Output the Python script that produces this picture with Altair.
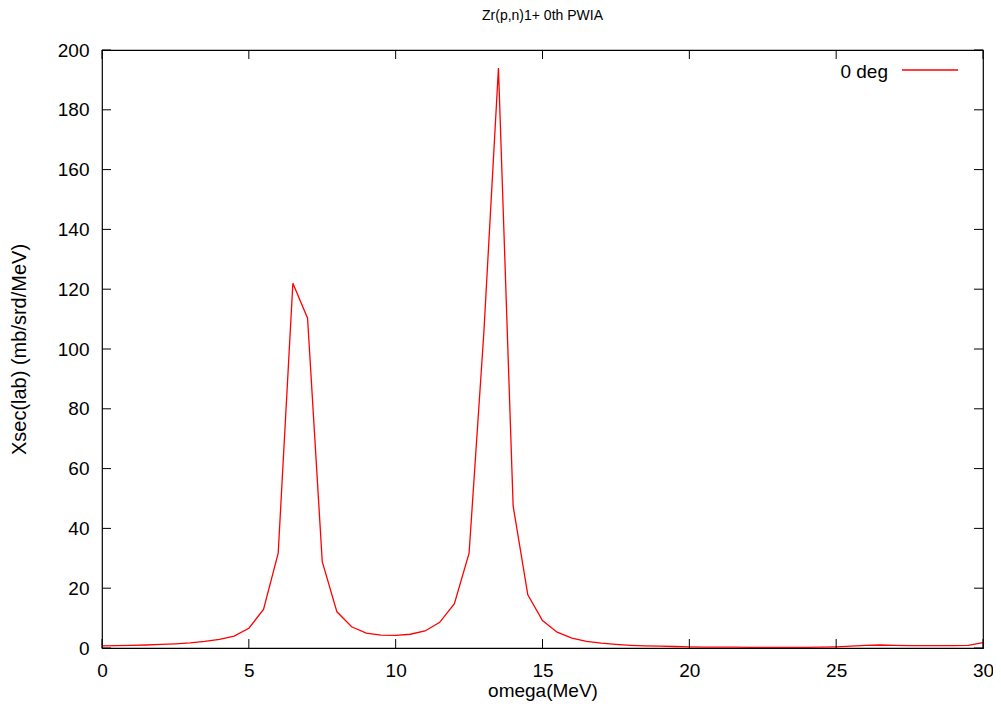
import altair as alt
import pandas as pd

omega = [0.0, 0.5, 1.0, 1.5, 2.0, 2.5, 3.0, 3.5, 4.0, 4.5,
         5.0, 5.5, 6.0, 6.5, 7.0, 7.5, 8.0, 8.5, 9.0, 9.5,
         10.0, 10.5, 11.0, 11.5, 12.0, 12.5, 13.0, 13.5, 14.0, 14.5,
         15.0, 15.5, 16.0, 16.5, 17.0, 17.5, 18.0, 18.5, 19.0, 19.5,
         20.0, 20.5, 21.0, 21.5, 22.0, 22.5, 23.0, 23.5, 24.0, 24.5,
         25.0, 25.5, 26.0, 26.5, 27.0, 27.5, 28.0, 28.5, 29.0, 29.5, 30.0]
xsec = [0.7, 0.8, 0.9, 1.0, 1.2, 1.4, 1.7, 2.2, 2.9, 4.0,
        6.6, 12.9, 31.7, 122.0, 110.3, 28.9, 12.1, 7.1, 5.0, 4.3,
        4.2, 4.6, 5.7, 8.6, 14.8, 31.7, 105.0, 194.0, 47.5, 17.8,
        9.2, 5.3, 3.3, 2.2, 1.6, 1.2, 0.9, 0.7, 0.6, 0.5,
        0.4, 0.3, 0.3, 0.3, 0.2, 0.2, 0.2, 0.2, 0.2, 0.3,
        0.4, 0.6, 0.9, 1.0, 0.9, 0.8, 0.8, 0.8, 0.8, 0.9, 1.8]
x_ticks = [0, 5, 10, 15, 20, 25, 30]
y_ticks = [0, 20, 40, 60, 80, 100, 120, 140, 160, 180, 200]
series_name = "0 deg"
title_text = "Zr(p,n)1+ 0th PWIA"
x_title = "omega(MeV)"
y_title = "Xsec(lab) (mb/srd/MeV)"

W, H = 881, 598
FONT = "Liberation Sans"
FS = 19
TL = 9

df = pd.DataFrame({"omega": omega, "xsec": xsec})
xt = pd.DataFrame({"omega": x_ticks})
yt = pd.DataFrame({"xsec": y_ticks})

xscale = alt.Scale(domain=[0, 30], nice=False, zero=False)
yscale = alt.Scale(domain=[0, 200], nice=False)

line = alt.Chart(df).mark_line(color="#ff0000", strokeWidth=1.3).encode(
    x=alt.X("omega:Q", scale=xscale, title=x_title,
            axis=alt.Axis(values=x_ticks, ticks=False, domain=False, grid=False,
                          labelFlush=False,
                          labelFont=FONT, labelFontSize=FS, labelColor="#000",
                          labelPadding=13, titleFont=FONT,
                          titleFontSize=FS, titleFontWeight="normal", titleColor="#000",
                          titleBaseline="alphabetic", titleY=48, titleX=W / 2)),
    y=alt.Y("xsec:Q", scale=yscale, title=y_title,
            axis=alt.Axis(values=y_ticks, ticks=False, domain=False, grid=False,
                          labelFlush=False,
                          labelFont=FONT, labelFontSize=FS, labelColor="#000",
                          labelPadding=13, titleFont=FONT,
                          titleFontSize=20, titleFontWeight="normal", titleColor="#000",
                          titleBaseline="middle", titleX=-83, titleY=H / 2)),
)

bottom_ticks = alt.Chart(xt).mark_rule(color="#000").encode(
    x=alt.X("omega:Q", scale=xscale, title=x_title), y=alt.value(H), y2=alt.value(H - TL))
top_ticks = alt.Chart(xt).mark_rule(color="#000").encode(
    x=alt.X("omega:Q", scale=xscale, title=x_title), y=alt.value(0), y2=alt.value(TL))
left_ticks = alt.Chart(yt).mark_rule(color="#000").encode(
    y=alt.Y("xsec:Q", scale=yscale, title=y_title), x=alt.value(0), x2=alt.value(TL))
right_ticks = alt.Chart(yt).mark_rule(color="#000").encode(
    y=alt.Y("xsec:Q", scale=yscale, title=y_title), x=alt.value(W), x2=alt.value(W - TL))

leg_df = pd.DataFrame({"name": [series_name]})
leg_text = alt.Chart(leg_df).mark_text(
    align="right", baseline="middle", font=FONT, fontSize=FS, color="#000").encode(
    text="name:N", x=alt.value(786), y=alt.value(22))
leg_line = alt.Chart(leg_df).mark_rule(color="#ff0000", strokeWidth=1.3).encode(
    x=alt.value(800), x2=alt.value(856), y=alt.value(20))

title_df = pd.DataFrame({"t": [title_text]})
title_mark = alt.Chart(title_df).mark_text(
    align="center", baseline="middle", font=FONT,
    fontSize=14, color="#000").encode(
    text="t:N", x=alt.value(W / 2), y=alt.value(-34))

chart = alt.layer(
    line, bottom_ticks, top_ticks, left_ticks, right_ticks, leg_text, leg_line, title_mark
).properties(
    width=W, height=H,
    autosize=alt.AutoSizeParams(type="none"),
    padding={"left": 94, "top": 42, "right": 10, "bottom": 60},
    background="white",
).configure_view(stroke="#000", strokeWidth=1.2)

chart.save("out.html", embed_options={"renderer": "svg", "actions": False})
